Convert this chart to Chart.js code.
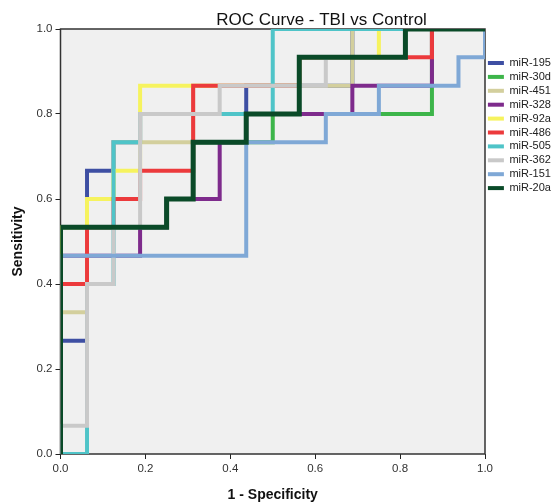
<!DOCTYPE html>
<html><head><meta charset="utf-8">
<script src="https://cdn.jsdelivr.net/npm/chart.js@4.4.1/dist/chart.umd.min.js"></script>
<style>html,body{margin:0;padding:0;background:#fff}#wrap{width:551px;height:502px}</style>
</head><body><div id="wrap"><canvas id="c" width="551" height="502"></canvas></div>
<script>
// Series names (legend order)
const seriesNames = ['miR-195','miR-30d','miR-451','miR-328','miR-92a','miR-486','miR-505','miR-362','miR-151','miR-20a'];
const chartTitle = 'ROC Curve - TBI vs Control';
const xTitle = '1 - Specificity';
const yTitle = 'Sensitivity';
const tickValues = [0, 0.2, 0.4, 0.6, 0.8, 1.0];

// ROC curve vertices: 1 - specificity (fpr) and sensitivity (tpr)
const fpr195 = [0,0,0.0625,0.0625,0.125,0.125,0.1875,0.1875,0.4375,0.4375,0.6875,0.6875,1];
const tpr195 = [0,0.2667,0.2667,0.6667,0.6667,0.7333,0.7333,0.8,0.8,0.8667,0.8667,1,1];

const fpr30d = [0,0,0.25,0.25,0.3125,0.3125,0.5,0.5,0.875,0.875,1];
const tpr30d = [0,0.5333,0.5333,0.6,0.6,0.7333,0.7333,0.8,0.8,1,1];

const fpr451 = [0,0,0.0625,0.0625,0.125,0.125,0.3125,0.3125,0.6875,0.6875,1];
const tpr451 = [0,0.3333,0.3333,0.6,0.6,0.7333,0.7333,0.8667,0.8667,1,1];

const fpr328 = [0,0,0.1875,0.1875,0.25,0.25,0.375,0.375,0.4375,0.4375,0.6875,0.6875,0.875,0.875,1];
const tpr328 = [0,0.4667,0.4667,0.5333,0.5333,0.6,0.6,0.7333,0.7333,0.8,0.8,0.8667,0.8667,1,1];

const fpr92a = [0,0,0.0625,0.0625,0.125,0.125,0.1875,0.1875,0.5625,0.5625,0.75,0.75,1];
const tpr92a = [0,0.5333,0.5333,0.6,0.6,0.6667,0.6667,0.8667,0.8667,0.9333,0.9333,1,1];

const fpr486 = [0,0,0.0625,0.0625,0.125,0.125,0.1875,0.1875,0.3125,0.3125,0.5625,0.5625,0.875,0.875,1];
const tpr486 = [0,0.4,0.4,0.5333,0.5333,0.6,0.6,0.6667,0.6667,0.8667,0.8667,0.9333,0.9333,1,1];

const fpr505 = [0,0.0625,0.0625,0.125,0.125,0.1875,0.1875,0.5,0.5,1];
const tpr505 = [0,0,0.4,0.4,0.7333,0.7333,0.8,0.8,1,1];

const fpr362 = [0,0,0.0625,0.0625,0.125,0.125,0.1875,0.1875,0.375,0.375,0.625,0.625,0.8125,0.8125,1];
const tpr362 = [0,0.0667,0.0667,0.4,0.4,0.5333,0.5333,0.8,0.8,0.8667,0.8667,0.9333,0.9333,1,1];

const fpr151 = [0,0,0.4375,0.4375,0.625,0.625,0.75,0.75,0.9375,0.9375,1,1];
const tpr151 = [0,0.4667,0.4667,0.7333,0.7333,0.8,0.8,0.8667,0.8667,0.9333,0.9333,1];

const fpr20a = [0,0,0.25,0.25,0.3125,0.3125,0.4375,0.4375,0.5625,0.5625,0.8125,0.8125,1];
const tpr20a = [0,0.5333,0.5333,0.6,0.6,0.7333,0.7333,0.8,0.8,0.9333,0.9333,1,1];

const fprs = [fpr195,fpr30d,fpr451,fpr328,fpr92a,fpr486,fpr505,fpr362,fpr151,fpr20a];
const tprs = [tpr195,tpr30d,tpr451,tpr328,tpr92a,tpr486,tpr505,tpr362,tpr151,tpr20a];

// Styles
const lineColors = ['#3E4FA3','#3DB54A','#D3CF9D','#7E2B8C','#F6F35E','#EC3A3C','#4FC4C8','#C9C9C9','#7FA8D6','#0A4A28'];
const lineWidths = [4,4,4,4,4,4,4,4,4,5];
const FONT = '"Liberation Sans", Arial, Helvetica, sans-serif';
Chart.defaults.font.family = FONT;

const datasets = seriesNames.map((name, i) => ({
  label: name,
  data: fprs[i].map((x, k) => ({ x: x, y: tprs[i][k] })),
  borderColor: lineColors[i],
  backgroundColor: lineColors[i],
  borderWidth: lineWidths[i],
  showLine: true,
  pointRadius: 0,
  pointHoverRadius: 0,
  tension: 0,
  fill: false,
  borderJoinStyle: 'miter',
  borderCapStyle: 'butt',
  order: seriesNames.length - i
}));

const frame = {
  id: 'frame',
  beforeDraw(chart) {
    const { ctx, chartArea: a } = chart;
    ctx.save();
    ctx.fillStyle = '#F0F0F0';
    ctx.fillRect(a.left, a.top, a.right - a.left, a.bottom - a.top);
    ctx.restore();
  },
  beforeDatasetsDraw(chart) {
    const { ctx, chartArea: a } = chart;
    ctx.save();
    ctx.strokeStyle = '#333';
    ctx.lineWidth = 1.5;
    ctx.strokeRect(a.left, a.top, a.right - a.left, a.bottom - a.top);
    ctx.restore();
  },
  afterDraw(chart) {
    const { ctx, chartArea: a } = chart;
    ctx.save();
    ctx.fillStyle = '#111';
    ctx.font = '17px ' + FONT;
    ctx.textAlign = 'center';
    ctx.textBaseline = 'alphabetic';
    ctx.fillText(chartTitle, a.left + (a.right - a.left) * 0.615, a.top - 4.5);
    ctx.restore();
  }
};

new Chart(document.getElementById('c'), {
  type: 'scatter',
  data: { datasets },
  options: {
    responsive: false,
    animation: false,
    devicePixelRatio: 1,
    layout: { padding: { top: 29, left: 0, right: 0, bottom: 0 } },
    scales: {
      x: {
        type: 'linear', min: 0, max: 1,
        afterBuildTicks(s) { s.ticks = tickValues.map(v => ({ value: v })); },
        ticks: { callback: v => Number(v).toFixed(1), color: '#333', font: { size: 11.5 }, padding: 3, maxRotation: 0, autoSkip: false },
        grid: { drawOnChartArea: false, drawTicks: true, tickLength: 5, color: '#222', lineWidth: 1 },
        border: { display: false },
        title: { display: true, text: xTitle, color: '#111', font: { size: 14, weight: 'bold', lineHeight: 1 }, padding: 0 },
        afterFit(s) { s.height = 48; }
      },
      y: {
        type: 'linear', min: 0, max: 1,
        afterBuildTicks(s) { s.ticks = tickValues.map(v => ({ value: v })); },
        ticks: { callback: v => Number(v).toFixed(1), color: '#333', font: { size: 11.5 }, padding: 3, autoSkip: false },
        grid: { drawOnChartArea: false, drawTicks: true, tickLength: 5, color: '#222', lineWidth: 1 },
        border: { display: false },
        title: { display: true, text: yTitle, color: '#111', font: { size: 14, weight: 'bold', lineHeight: 1 }, padding: { top: 11, bottom: 0 } },
        afterFit(s) { s.width = 60.5; }
      }
    },
    plugins: {
      title: { display: false },
      tooltip: { enabled: false },
      legend: {
        position: 'right',
        align: 'start',
        maxWidth: 66,
        title: { display: true, text: ' ', font: { size: 10, lineHeight: 1 }, padding: { top: 15.6, bottom: 0 } },
        labels: {
          boxWidth: 16,
          boxHeight: 4,
          padding: 2.9,
          color: '#222',
          font: { size: 11 },
          generateLabels(chart) {
            const items = Chart.defaults.plugins.legend.labels.generateLabels(chart);
            items.forEach(it => { it.fillStyle = it.strokeStyle; it.lineWidth = 0; });
            return items;
          },
          sort: (a, b) => a.datasetIndex - b.datasetIndex
        }
      }
    }
  },
  plugins: [frame]
});
</script>
</body></html>
